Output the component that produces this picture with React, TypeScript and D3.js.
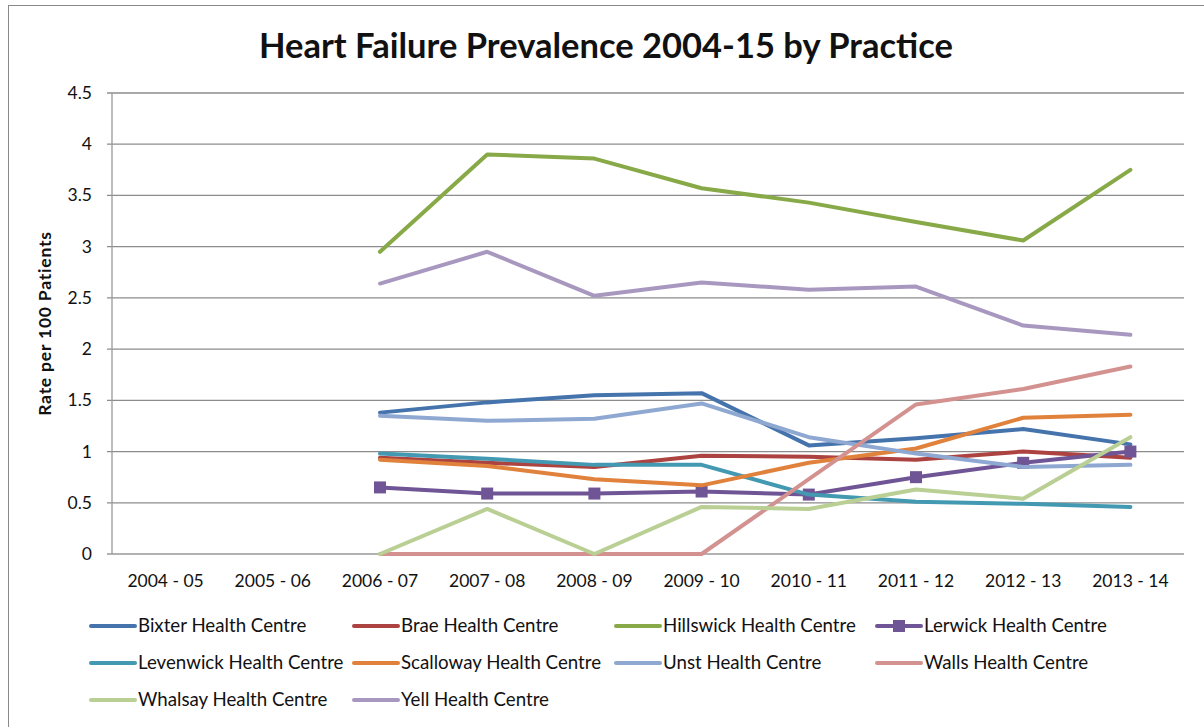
import React from "react";
import { scaleBand, scaleLinear, line } from "d3";

const years = [
  "2004 - 05",
  "2005 - 06",
  "2006 - 07",
  "2007 - 08",
  "2008 - 09",
  "2009 - 10",
  "2010 - 11",
  "2011 - 12",
  "2012 - 13",
  "2013 - 14",
];

const yTicks = [0, 0.5, 1, 1.5, 2, 2.5, 3, 3.5, 4, 4.5];

// values start at 2006-07; earlier years have no data
const bixter = [null, null, 1.38, 1.48, 1.55, 1.57, 1.06, 1.13, 1.22, 1.07];
const brae = [null, null, 0.94, 0.89, 0.85, 0.96, 0.95, 0.92, 1.0, 0.94];
const hillswick = [null, null, 2.95, 3.9, 3.86, 3.57, 3.43, 3.24, 3.06, 3.75];
const lerwick = [null, null, 0.65, 0.59, 0.59, 0.61, 0.58, 0.75, 0.89, 1.0];
const levenwick = [null, null, 0.98, 0.93, 0.87, 0.87, 0.58, 0.51, 0.49, 0.46];
const scalloway = [null, null, 0.92, 0.86, 0.73, 0.67, 0.89, 1.03, 1.33, 1.36];
const unst = [null, null, 1.35, 1.3, 1.32, 1.47, 1.14, 0.98, 0.85, 0.87];
const walls = [null, null, 0, 0, 0, 0, 0.73, 1.46, 1.61, 1.83];
const whalsay = [null, null, 0, 0.44, 0, 0.46, 0.44, 0.63, 0.54, 1.14];
const yell = [null, null, 2.64, 2.95, 2.52, 2.65, 2.58, 2.61, 2.23, 2.14];

const series = [
  { name: "Bixter Health Centre", values: bixter, color: "#4573AC" },
  { name: "Brae Health Centre", values: brae, color: "#AC4340" },
  { name: "Hillswick Health Centre", values: hillswick, color: "#88A948" },
  { name: "Lerwick Health Centre", values: lerwick, color: "#6F5595", marker: true },
  { name: "Levenwick Health Centre", values: levenwick, color: "#4299B1" },
  { name: "Scalloway Health Centre", values: scalloway, color: "#E0823C" },
  { name: "Unst Health Centre", values: unst, color: "#8EA8D1" },
  { name: "Walls Health Centre", values: walls, color: "#D39290" },
  { name: "Whalsay Health Centre", values: whalsay, color: "#B9CF94" },
  { name: "Yell Health Centre", values: yell, color: "#A898C0" },
];

const W = 1204;
const H = 727;
const plot = { left: 112, top: 93, right: 1184, bottom: 554 };
const legendCols = [91, 354, 616, 877];
const legendRows = [626, 663, 700];

export default function App() {
  const x = scaleBand<string>()
    .domain(years)
    .range([plot.left, plot.right]);
  const y = scaleLinear().domain([0, 4.5]).range([plot.bottom, plot.top]);
  const cx = (i: number) => (x(years[i]) as number) + x.bandwidth() / 2;

  const path = line<number | null>()
    .defined((d) => d !== null)
    .x((_, i) => cx(i))
    .y((d) => y(d as number));

  const font = "Lato, 'Open Sans', sans-serif";

  return (
    <svg
      width={W}
      height={H}
      style={{ position: "absolute", left: 0, top: 0, background: "#fff" }}
      fontFamily={font}
    >
      <rect x={8.5} y={5.5} width={1210} height={740} fill="#fff" stroke="#8a8a8a" strokeWidth={1} />
      <text
        x={606}
        y={58}
        textAnchor="middle"
        fontSize={34.5}
        fontWeight="bold"
        fill="#111"
      >
        Heart Failure Prevalence 2004-15 by Practice
      </text>

      {yTicks.map((t) => (
        <g key={t}>
          <line
            x1={plot.left - 5}
            x2={plot.right}
            y1={y(t)}
            y2={y(t)}
            stroke={t === 0 ? "#999" : "#8c8c8c"}
            strokeWidth={1.3}
          />
          <text x={92} y={y(t) + 6} textAnchor="end" fontSize={17.5} fill="#111">
            {t}
          </text>
        </g>
      ))}
      <line x1={plot.left} x2={plot.left} y1={plot.top} y2={plot.bottom} stroke="#999" strokeWidth={1.3} />

      {years.map((yr, i) => (
        <text key={yr} x={cx(i)} y={587} textAnchor="middle" fontSize={17.5} fill="#111">
          {yr}
        </text>
      ))}

      <text
        transform={`translate(51,${(plot.top + plot.bottom) / 2}) rotate(-90)`}
        textAnchor="middle"
        fontSize={17.5}
        letterSpacing={0.8}
        fontWeight="bold"
        fill="#111"
      >
        Rate per 100 Patients
      </text>

      {series.map((s) => (
        <g key={s.name}>
          <path
            d={path(s.values) || ""}
            fill="none"
            stroke={s.color}
            strokeWidth={4}
            strokeLinejoin="round"
            strokeLinecap="round"
          />
          {s.marker &&
            s.values.map((v, i) =>
              v === null ? null : (
                <rect
                  key={i}
                  x={cx(i) - 6}
                  y={y(v) - 6}
                  width={12}
                  height={12}
                  fill={s.color}
                />
              )
            )}
        </g>
      ))}

      {series.map((s, i) => {
        const lx = legendCols[i % 4];
        const ly = legendRows[Math.floor(i / 4)];
        return (
          <g key={s.name}>
            <line x1={lx} x2={lx + 44} y1={ly} y2={ly} stroke={s.color} strokeWidth={4} strokeLinecap="round" />
            {s.marker && <rect x={lx + 16} y={ly - 6} width={12} height={12} fill={s.color} />}
            <text x={lx + 47} y={ly + 6} fontSize={18.7} fill="#111">
              {s.name}
            </text>
          </g>
        );
      })}
    </svg>
  );
}
